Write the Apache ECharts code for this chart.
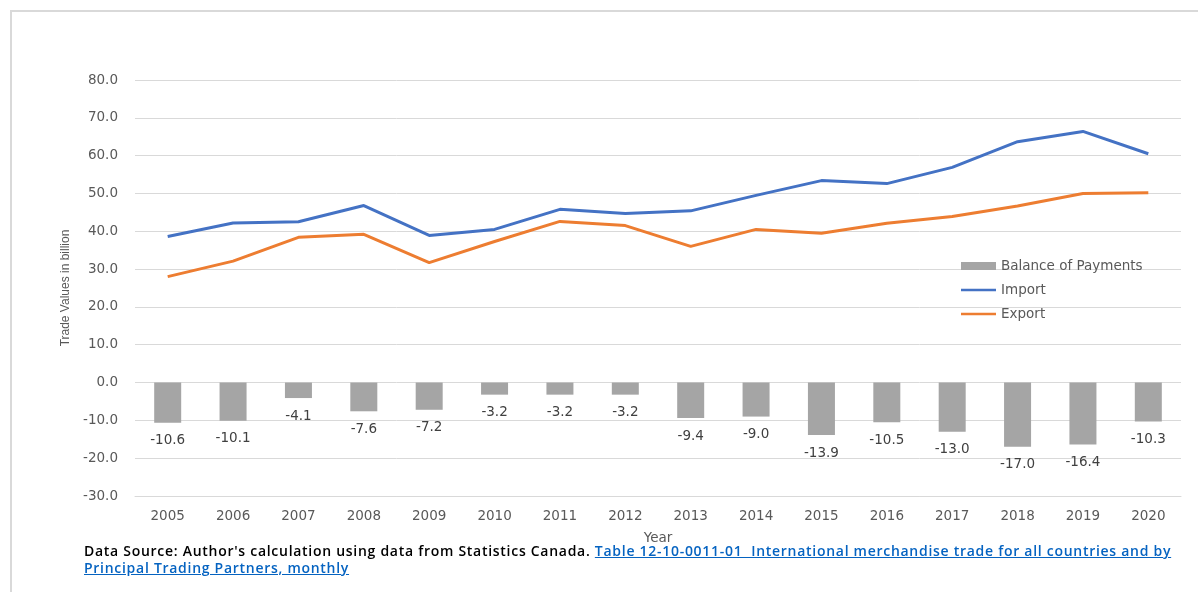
<!DOCTYPE html>
<html>
<head>
<meta charset="utf-8">
<script src="https://cdn.jsdelivr.net/npm/echarts@6/dist/echarts.min.js"></script>
<style>
  html, body { margin: 0; padding: 0; background: #fff; }
  #wrap { position: relative; width: 1198px; height: 592px; overflow: hidden; }
  #chart { position: absolute; left: 0; top: 0; width: 1198px; height: 592px; }
  #source {
    position: absolute; left: 84px; top: 542px; width: 1100px;
    font-family: "Open Sans", sans-serif; font-size: 14px; font-weight: 600;
    letter-spacing: 0.72px; line-height: 17px; color: #000;
  }
  #source a { color: #0563c1; text-decoration: underline; }
</style>
</head>
<body>
<div id="wrap">
  <div id="chart"></div>
  <div id="source">Data Source: Author's calculation using data from Statistics Canada. <a href="#">Table 12-10-0011-01&nbsp; International merchandise trade for all countries and by Principal Trading Partners, monthly</a></div>
</div>
<script>
// Annual trade with principal partners, billions
const years = ['2005', '2006', '2007', '2008', '2009', '2010', '2011', '2012',
               '2013', '2014', '2015', '2016', '2017', '2018', '2019', '2020'];
const importValues = [38.6, 42.2, 42.5, 46.8, 38.9, 40.5, 45.8, 44.7,
                      45.4, 49.5, 53.4, 52.6, 56.9, 63.7, 66.4, 60.5];
const exportValues = [28.0, 32.1, 38.4, 39.2, 31.7, 37.3, 42.6, 41.5,
                      36.0, 40.5, 39.5, 42.1, 43.9, 46.7, 50.0, 50.2];
const balanceValues = [-10.6, -10.1, -4.1, -7.6, -7.2, -3.2, -3.2, -3.2,
                       -9.4, -9.0, -13.9, -10.5, -13.0, -17.0, -16.4, -10.3];

const axisFont = '"DejaVu Sans", sans-serif';
// plain stroke used as the legend key for the two line series
const lineKey = 'path://M0,0L0,0M0,2.6L36,2.6L36,5.4L0,5.4ZM36,8L36,8';

const chart = echarts.init(document.getElementById('chart'), null, { renderer: 'canvas' });

chart.setOption({
  backgroundColor: '#ffffff',
  animation: false,
  graphic: [{
    type: 'rect',
    shape: { x: 11, y: 11, width: 1400, height: 800 },
    style: { fill: 'none', stroke: '#d9d9d9', lineWidth: 2 },
    silent: true
  }],
  legend: {
    orient: 'vertical',
    left: 956,
    top: 254,
    itemWidth: 35,
    itemHeight: 8,
    itemGap: 10,
    textStyle: { fontFamily: axisFont, fontSize: 13.5, color: '#595959', lineHeight: 14 },
    data: [
      { name: 'Balance of Payments', icon: 'rect' },
      { name: 'Import', icon: lineKey },
      { name: 'Export', icon: lineKey }
    ]
  },
  grid: { left: 135, right: 17, top: 80, bottom: 96, containLabel: false },
  xAxis: {
    type: 'category',
    data: years,
    name: 'Year',
    nameLocation: 'middle',
    nameGap: 35,
    nameTextStyle: { fontFamily: axisFont, fontSize: 13.5, color: '#595959' },
    axisLine: { onZero: false, lineStyle: { color: '#d9d9d9' } },
    axisTick: { show: false },
    axisLabel: { fontFamily: axisFont, fontSize: 13.5, color: '#595959', margin: 13 }
  },
  yAxis: {
    type: 'value',
    min: -30,
    max: 80,
    interval: 10,
    name: 'Trade Values in billion',
    nameLocation: 'middle',
    nameGap: 63,
    nameRotate: 90,
    nameTextStyle: { fontFamily: '"Liberation Sans Narrow", "Liberation Sans", sans-serif', fontSize: 12, color: '#595959' },
    axisLine: { show: false },
    axisTick: { show: false },
    splitLine: { lineStyle: { color: '#d9d9d9', width: 1 } },
    axisLabel: {
      fontFamily: axisFont, fontSize: 13.5, color: '#595959', margin: 17,
      formatter: v => v.toFixed(1)
    }
  },
  series: [
    {
      name: 'Balance of Payments',
      type: 'bar',
      data: balanceValues,
      barWidth: 27,
      itemStyle: { color: '#a5a5a5' },
      label: {
        show: true,
        position: 'bottom',
        distance: 11,
        fontFamily: axisFont,
        fontSize: 13.5,
        color: '#404040',
        formatter: p => p.value.toFixed(1)
      },
      z: 1
    },
    {
      name: 'Import',
      type: 'line',
      data: importValues,
      symbol: 'none',
      lineStyle: { color: '#4472c4', width: 3 },
      itemStyle: { color: '#4472c4' },
      z: 3
    },
    {
      name: 'Export',
      type: 'line',
      data: exportValues,
      symbol: 'none',
      lineStyle: { color: '#ed7d31', width: 3 },
      itemStyle: { color: '#ed7d31' },
      z: 3
    }
  ]
});
</script>
</body>
</html>
